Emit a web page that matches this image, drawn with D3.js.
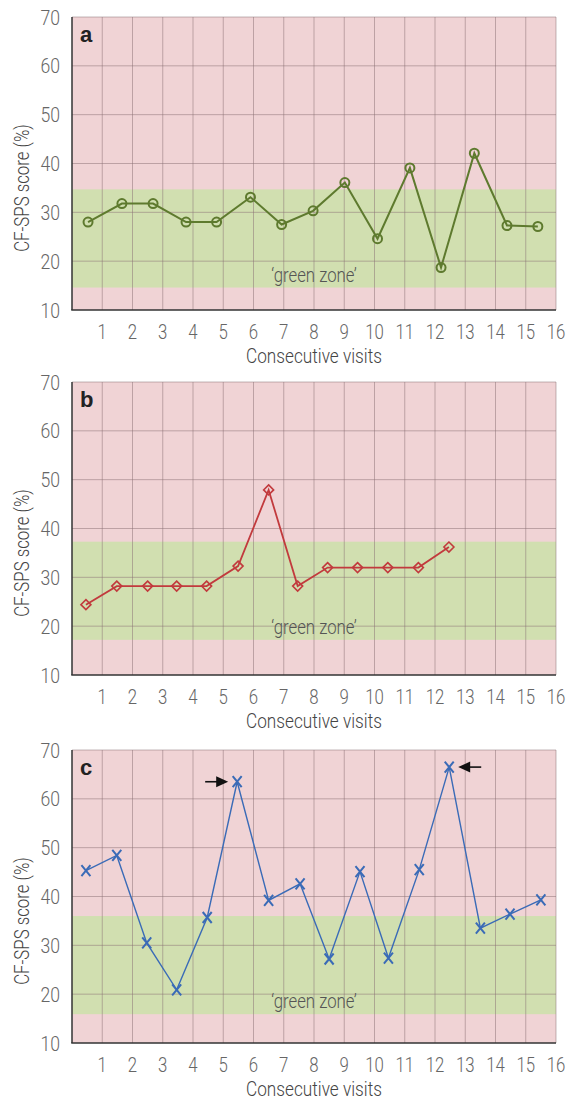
<!DOCTYPE html>
<html>
<head>
<meta charset="utf-8">
<script src="https://cdn.jsdelivr.net/npm/d3@7"></script>
<style>
  body { margin: 0; background: #fff; }
  svg text { font-family: Roboto, "Liberation Sans", sans-serif; font-weight: 300; }
</style>
</head>
<body>
<div id="chart"></div>
<script>
// visits on the x axis and score ticks on the y axis
const visitTicks = d3.range(1, 17);
const scoreTicks = [10, 20, 30, 40, 50, 60, 70];

// panel a
const visitsA = [0.53, 1.65, 2.68, 3.77, 4.78, 5.9, 6.93, 7.97, 9.02, 10.1, 11.17, 12.2, 13.3, 14.38, 15.4];
const scoresA = [28, 31.8, 31.8, 28, 28, 33.1, 27.5, 30.3, 36.1, 24.6, 39.1, 18.7, 42.1, 27.3, 27.1];
const zoneA = [14.6, 34.7];

// panel b
const visitsB = [0.46, 1.48, 2.5, 3.46, 4.45, 5.49, 6.5, 7.46, 8.45, 9.44, 10.44, 11.45, 12.46];
const scoresB = [24.4, 28.2, 28.2, 28.2, 28.2, 32.3, 47.9, 28.2, 32, 32, 32, 32, 36.2];
const zoneB = [17.2, 37.3];

// panel c
const visitsC = [0.46, 1.48, 2.47, 3.46, 4.47, 5.46, 6.5, 7.54, 8.5, 9.52, 10.46, 11.48, 12.47, 13.5, 14.48, 15.5];
const scoresC = [45.3, 48.4, 30.5, 20.9, 35.7, 63.5, 39.2, 42.6, 27.2, 45.1, 27.4, 45.5, 66.5, 33.5, 36.4, 39.3];
const zoneC = [15.9, 36.0];
const arrowsC = [{ idx: 5, dir: 1 }, { idx: 12, dir: -1 }];

const panels = [
  { label: "a", top: 17, xs: visitsA, ys: scoresA, zone: zoneA, color: "#5e7a2e", marker: "circle", lw: 2 },
  { label: "b", top: 382, xs: visitsB, ys: scoresB, zone: zoneB, color: "#c23a3d", marker: "diamond", lw: 1.8 },
  { label: "c", top: 750, xs: visitsC, ys: scoresC, zone: zoneC, color: "#3a6bb7", marker: "cross", lw: 1.4, arrows: arrowsC }
];

const width = 567, height = 1104;
const left = 72, right = 556, plotH = 293;
const squeeze = 0.84; // condensed look for the light sans labels

const svg = d3.select("#chart").append("svg")
  .attr("width", width)
  .attr("height", height);

const x = d3.scaleLinear().domain([0, 16]).range([left, right]);

// text squeezed horizontally around its anchor point
function label(sel, tx, ty, str, size, anchor, fill, rot) {
  return sel.append("g")
    .attr("transform", `translate(${tx},${ty})` + (rot ? ` rotate(${rot})` : "") + ` scale(${squeeze},1)`)
    .append("text")
      .attr("text-anchor", anchor)
      .style("font-size", size + "px")
      .style("fill", fill)
      .text(str);
}

panels.forEach(p => {
  const y = d3.scaleLinear().domain([10, 70]).range([p.top + plotH, p.top]);
  const g = svg.append("g");

  // background: red outside, green zone inside
  g.append("rect")
    .attr("x", x(0)).attr("y", y(70))
    .attr("width", x(16) - x(0)).attr("height", y(10) - y(70))
    .attr("fill", "#f0d3d5");
  g.append("rect")
    .attr("x", x(0)).attr("y", y(p.zone[1]))
    .attr("width", x(16) - x(0)).attr("height", y(p.zone[0]) - y(p.zone[1]))
    .attr("fill", "#d1dfb0");

  // grid
  g.append("g")
    .selectAll("line")
    .data(visitTicks)
    .join("line")
      .attr("x1", d => x(d)).attr("x2", d => x(d))
      .attr("y1", y(10)).attr("y2", y(70))
      .attr("stroke", "#8a7073").attr("stroke-opacity", 0.5).attr("stroke-width", 1);
  g.append("g")
    .selectAll("line")
    .data(scoreTicks.filter(d => d > 10))
    .join("line")
      .attr("x1", x(0)).attr("x2", x(16))
      .attr("y1", d => y(d)).attr("y2", d => y(d))
      .attr("stroke", "#8a7073").attr("stroke-opacity", 0.5).attr("stroke-width", 1);

  // axes
  g.append("line")
    .attr("x1", x(0)).attr("x2", x(0)).attr("y1", y(70)).attr("y2", y(10))
    .attr("stroke", "#333").attr("stroke-width", 1.5);
  g.append("line")
    .attr("x1", x(0) - 0.75).attr("x2", x(16)).attr("y1", y(10)).attr("y2", y(10))
    .attr("stroke", "#333").attr("stroke-width", 1.5);

  // tick labels
  scoreTicks.forEach(d => {
    label(g, 60, y(d) + 7.5, d, 21, "end", "#666");
  });
  visitTicks.forEach(d => {
    label(g, x(d), y(10) + 29, d, 20, "middle", "#666");
  });

  // axis titles
  label(g, 29, p.top + 171, "CF-SPS score (%)", 20, "middle", "#444", -90);
  label(g, (x(0) + x(16)) / 2, y(10) + 53, "Consecutive visits", 20.5, "middle", "#444");

  // panel letter and zone label
  g.append("text")
    .attr("x", 80).attr("y", p.top + 25)
    .style("font-family", "'Liberation Sans', Arial, sans-serif")
    .style("font-weight", "bold")
    .style("font-size", "22px")
    .style("fill", "#222")
    .text(p.label);
  label(g, x(8), y(p.zone[0]) - 6, "\u2018green zone\u2019", 20, "middle", "#555");

  // line
  const pts = p.xs.map((v, i) => [v, p.ys[i]]);
  const line = d3.line().x(d => x(d[0])).y(d => y(d[1]));
  g.append("path")
    .datum(pts)
    .attr("d", line)
    .attr("fill", "none")
    .attr("stroke", p.color)
    .attr("stroke-width", p.lw);

  // markers
  const m = g.append("g").selectAll("g").data(pts).join("g")
    .attr("transform", d => `translate(${x(d[0])},${y(d[1])})`);
  if (p.marker === "circle") {
    m.append("circle").attr("r", 4.5)
      .attr("fill", "none").attr("stroke", p.color).attr("stroke-width", 2);
  } else if (p.marker === "diamond") {
    m.append("path").attr("d", "M0,-5L5,0L0,5L-5,0Z")
      .attr("fill", "none")
      .attr("stroke", p.color).attr("stroke-width", 1.6);
  } else {
    m.append("path").attr("d", "M-4.5,-5.5L4.5,5.5M4.5,-5.5L-4.5,5.5")
      .attr("fill", "none").attr("stroke", p.color).attr("stroke-width", 2);
  }

  // arrows
  (p.arrows || []).forEach(a => {
    const px = x(p.xs[a.idx]), py = y(p.ys[a.idx]);
    const tip = px - a.dir * 9;
    const base = tip - a.dir * 12;
    const tail = tip - a.dir * 23;
    g.append("line")
      .attr("x1", tail).attr("x2", base + a.dir * 2)
      .attr("y1", py).attr("y2", py)
      .attr("stroke", "#111").attr("stroke-width", 1.6);
    g.append("path")
      .attr("d", `M${tip},${py}L${base},${py - 5.5}L${base},${py + 5.5}Z`)
      .attr("fill", "#111");
  });
});
</script>
</body>
</html>
